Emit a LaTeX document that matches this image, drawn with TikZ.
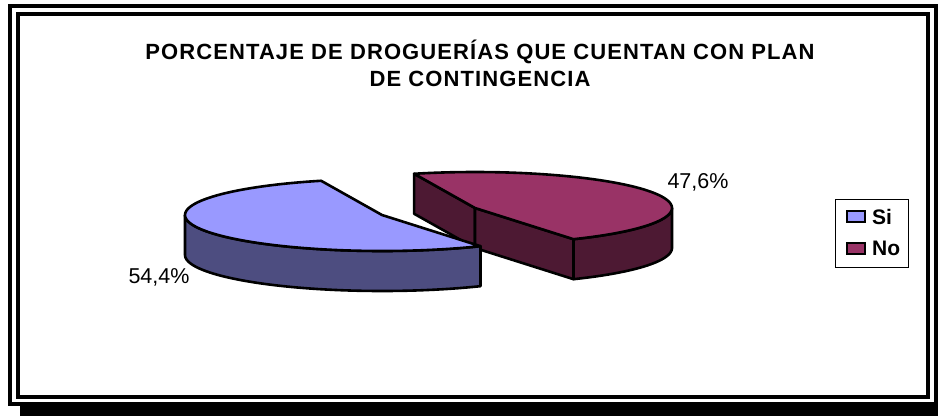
\documentclass[tikz,border=0pt]{standalone}
\usepackage{fontspec}
\setmainfont{Liberation Sans}
\newfontfamily\titlefont[LetterSpace=5]{Liberation Sans}
\usetikzlibrary{positioning}
\definecolor{siTop}{RGB}{153,153,255}
\definecolor{siSide}{RGB}{77,77,128}
\definecolor{noTop}{RGB}{153,51,102}
\definecolor{noSide}{RGB}{77,25,51}

\begin{document}
\begin{tikzpicture}[x=1pt,y=-1pt,
    face/.style={draw=black,line width=2.6pt,line join=round},
    pct/.style={font=\fontsize{21.5}{25}\selectfont},
    leg/.style={font=\bfseries\fontsize{21}{24}\selectfont,anchor=west,inner sep=0pt}]
\useasboundingbox (0,0) rectangle (938,416);
% frame with shadow
\fill[black] (20,404) rectangle (938,416);
\draw[line width=4pt] (10,6) rectangle (936,404);
\draw[line width=4pt] (18,14) rectangle (928,397);
% title
\node[align=center,font=\titlefont\bfseries\fontsize{22}{27}\selectfont] (title) at (480,63)
    {PORCENTAJE DE DROGUERÍAS QUE CUENTAN CON PLAN\\DE CONTINGENCIA};
% No slice (pulled out)
\path[face,fill=noSide] (475,208) -- ({475+197*cos(108)},{208-36*sin(108)}) -- ++(0,40) -- (475,248) -- cycle;
\path[face,fill=noSide] (475,208) -- ({475+197*cos(300)},{208-36*sin(300)}) -- ++(0,40) -- (475,248) -- cycle;
\path[face,fill=noSide] plot[domain=300:360,samples=30] ({475+197*cos(\x)},{208-36*sin(\x)})
    -- plot[domain=360:300,samples=30] ({475+197*cos(\x)},{248-36*sin(\x)}) -- cycle;
\path[face,fill=noTop] (475,208) -- plot[domain=300:468,samples=80] ({475+197*cos(\x)},{208-36*sin(\x)}) -- cycle;
% Si slice
\path[face,fill=siSide] plot[domain=180:300,samples=50] ({382+197*cos(\x)},{215-36*sin(\x)})
    -- plot[domain=300:180,samples=50] ({382+197*cos(\x)},{255-36*sin(\x)}) -- cycle;
\path[face,fill=siTop] (382,215) -- plot[domain=108:300,samples=80] ({382+197*cos(\x)},{215-36*sin(\x)}) -- cycle;
% data labels
\node[pct] (si) at (159,277) {54,4\%};
\node[pct] (no) at (698,182) {47,6\%};
% legend
\draw[line width=0.8pt] (835,199) rectangle (908,267);
\foreach \lbl/\col [count=\n] in {Si/siTop,No/noTop}
{
    \draw[fill=\col,line width=2pt] (847,{211+(\n-1)*32}) rectangle ++(18,11);
    \node[leg] (L\n) at (872,{216.5+(\n-1)*32}) {\lbl};
}
\end{tikzpicture}
\end{document}
